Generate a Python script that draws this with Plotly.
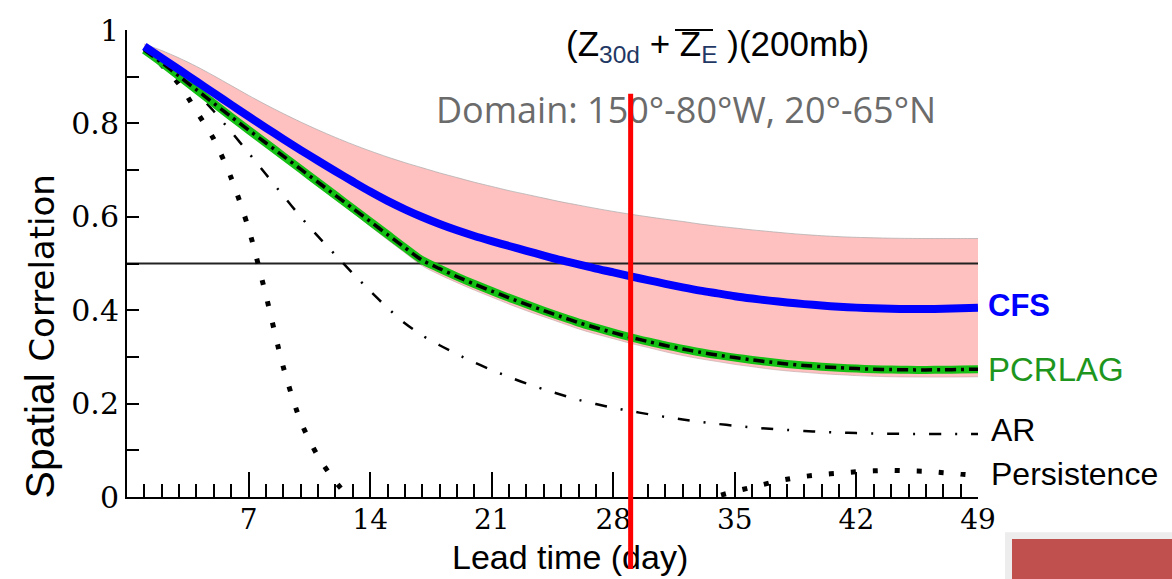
import plotly.graph_objects as go

# ---------------- data ----------------
days = list(range(1, 50))

cfs = [0.965, 0.940, 0.915, 0.890, 0.865, 0.840, 0.815, 0.7905, 0.7665, 0.743,
       0.720, 0.6975, 0.6755, 0.654, 0.634, 0.616, 0.5995, 0.5845, 0.571, 0.559,
       0.548, 0.5375, 0.527, 0.517, 0.507, 0.498, 0.489, 0.481, 0.4725, 0.4645,
       0.4565, 0.449, 0.442, 0.436, 0.430, 0.425, 0.4205, 0.4165, 0.413, 0.410,
       0.4075, 0.4055, 0.404, 0.403, 0.4025, 0.4025, 0.403, 0.404, 0.4055]

pcrlag = [0.957, 0.930, 0.901, 0.872, 0.843, 0.814, 0.786, 0.758, 0.730, 0.702,
          0.674, 0.646, 0.618, 0.590, 0.562, 0.534, 0.507, 0.489, 0.472, 0.456,
          0.441, 0.4265, 0.4125, 0.399, 0.386, 0.3735, 0.3625, 0.352, 0.342, 0.333,
          0.3245, 0.317, 0.310, 0.304, 0.2985, 0.2935, 0.289, 0.285, 0.2817, 0.279,
          0.2768, 0.275, 0.2737, 0.2728, 0.2723, 0.2722, 0.2725, 0.273, 0.2738]

band_upper = [0.970, 0.956, 0.940, 0.922, 0.902, 0.881, 0.860, 0.840, 0.821, 0.803,
              0.786, 0.770, 0.755, 0.741, 0.728, 0.716, 0.705, 0.694, 0.684, 0.674,
              0.665, 0.656, 0.648, 0.640, 0.632, 0.625, 0.618, 0.6115, 0.6055, 0.600,
              0.5948, 0.590, 0.5845, 0.580, 0.576, 0.572, 0.5685, 0.565, 0.562, 0.5595,
              0.5575, 0.556, 0.555, 0.5542, 0.5537, 0.5535, 0.5535, 0.5535, 0.5535]

band_lower = [0.953, 0.926, 0.897, 0.867, 0.838, 0.809, 0.780, 0.752, 0.723, 0.695,
              0.666, 0.637, 0.609, 0.580, 0.551, 0.523, 0.495, 0.476, 0.459, 0.443,
              0.428, 0.413, 0.399, 0.386, 0.373, 0.360, 0.349, 0.339, 0.329, 0.320,
              0.311, 0.303, 0.296, 0.290, 0.284, 0.279, 0.274, 0.270, 0.267, 0.264,
              0.262, 0.260, 0.2585, 0.2575, 0.257, 0.2568, 0.2568, 0.257, 0.2575]

ar = [0.962, 0.935, 0.903, 0.866, 0.826, 0.782, 0.737, 0.691, 0.645, 0.600,
      0.558, 0.518, 0.479, 0.441, 0.405, 0.372, 0.346, 0.325, 0.306, 0.288,
      0.272, 0.257, 0.243, 0.2305, 0.219, 0.208, 0.199, 0.191, 0.184, 0.1775,
      0.1715, 0.166, 0.161, 0.1565, 0.1525, 0.149, 0.146, 0.1435, 0.1413, 0.1395,
      0.138, 0.1368, 0.136, 0.1355, 0.1352, 0.135, 0.135, 0.135, 0.135]

persistence = [0.960, 0.925, 0.884, 0.826, 0.766, 0.683, 0.575, 0.432, 0.278, 0.162,
               0.087, 0.033, -0.010, None, None, None, None, None, None, None,
               None, None, None, None, None, None, None, None, None, None,
               None, None, -0.010, 0.002, 0.012, 0.021, 0.030, 0.038, 0.044, 0.048,
               0.051, 0.054, 0.056, 0.057, 0.056, 0.055, 0.052, 0.049, 0.046]

threshold = 0.5
marker_day = 29
x_range = [0, 49]
y_range = [0, 1]
x_tickvals = [7, 14, 21, 28, 35, 42, 49]
y_tickvals = [0, 0.2, 0.4, 0.6, 0.8, 1]
y_ticktext = ["0", "0.2", "0.4", "0.6", "0.8", "1"]

# ---------------- figure ----------------
W, H = 1172, 579
ML, MR, MT, MB = 127, 194, 20, 82
PW, PH = W - ML - MR, H - MT - MB


def px_x(px):
    return (px - ML) / PW


def px_y(py):
    return (H - MB - py) / PH


SM = 0.8
fig = go.Figure()

# uncertainty band
fig.add_trace(go.Scatter(x=days, y=band_lower, mode="lines",
                         line=dict(color="rgba(190,170,170,0.6)", width=1,
                                   shape="spline", smoothing=SM),
                         showlegend=False, hoverinfo="skip"))
fig.add_trace(go.Scatter(x=days, y=band_upper, mode="lines", fill="tonexty",
                         fillcolor="#FFC0C0",
                         line=dict(color="rgba(170,170,170,0.7)", width=1,
                                   shape="spline", smoothing=SM),
                         showlegend=False, hoverinfo="skip"))

# 0.5 reference line
fig.add_trace(go.Scatter(x=x_range, y=[threshold, threshold], mode="lines",
                         line=dict(color="#222222", width=1.8),
                         showlegend=False, hoverinfo="skip"))

# AR
fig.add_trace(go.Scatter(x=days, y=ar, mode="lines",
                         line=dict(color="black", width=2.5, shape="spline",
                                   smoothing=SM, dash="12px,14px,2px,14px"),
                         showlegend=False))
# Persistence
fig.add_trace(go.Scatter(x=days, y=persistence, mode="lines",
                         line=dict(color="black", width=5, shape="spline",
                                   smoothing=SM, dash="5px,17px"),
                         connectgaps=False, showlegend=False))
# PCRLAG (green with black dash-dot on top)
fig.add_trace(go.Scatter(x=days, y=pcrlag, mode="lines",
                         line=dict(color="#14C014", width=8, shape="spline",
                                   smoothing=SM),
                         showlegend=False))
fig.add_trace(go.Scatter(x=days, y=pcrlag, mode="lines",
                         line=dict(color="black", width=3.5, shape="spline",
                                   smoothing=SM, dash="11px,5px,3px,5px"),
                         showlegend=False))
# CFS
fig.add_trace(go.Scatter(x=days, y=cfs, mode="lines",
                         line=dict(color="#0000FF", width=8, shape="spline",
                                   smoothing=SM),
                         showlegend=False))

annotations = []
# series labels
lab_font = dict(family="Liberation Sans, Arial, sans-serif", size=32)
annotations.append(dict(x=days[-1], y=cfs[-1], xref="x", yref="y",
                        text="<b>CFS</b>", showarrow=False, xanchor="left",
                        xshift=8, yshift=2,
                        font=dict(lab_font, size=31, color="#0000FF")))
annotations.append(dict(x=days[-1], y=pcrlag[-1], xref="x", yref="y",
                        text="PCRLAG", showarrow=False, xanchor="left",
                        xshift=8, font=dict(lab_font, size=33, color="#1E961E")))
annotations.append(dict(x=days[-1], y=ar[-1], xref="x", yref="y",
                        text="AR", showarrow=False, xanchor="left",
                        xshift=11, yshift=4, font=dict(lab_font, color="black")))
annotations.append(dict(x=days[-1], y=persistence[-1], xref="x", yref="y",
                        text="Persistence", showarrow=False, xanchor="left",
                        xshift=11, yshift=2, font=dict(lab_font, color="black")))

# titles
annotations.append(dict(
    x=px_x(717), y=px_y(36), xref="paper", yref="paper",
    text=("(Z<sub><span style='color:#1F3864'>30d</span></sub> + "
          "Z<sub><span style='color:#1F3864'>E</span></sub> )(200mb)"),
    showarrow=False, xanchor="center", yanchor="middle",
    font=dict(family="Liberation Sans, Arial, sans-serif", size=35, color="black")))
annotations.append(dict(
    x=px_x(686), y=px_y(101), xref="paper", yref="paper",
    text="Domain: 150°-80°W, 20°-65°N", showarrow=False,
    xanchor="center", yanchor="middle",
    font=dict(family="Open Sans, sans-serif", size=36, color="#6B6B6B")))
# axis titles
annotations.append(dict(
    x=px_x(570), y=px_y(558), xref="paper", yref="paper",
    text="Lead time (day)", showarrow=False, xanchor="center", yanchor="middle",
    font=dict(family="Liberation Sans, Arial, sans-serif", size=34, color="black")))
annotations.append(dict(
    x=px_x(40), y=px_y(333), xref="paper", yref="paper", textangle=-90,
    text=("<span style='font-size:41px'>Spatial</span> "
          "<span style='font-family:DejaVu Sans;font-size:34px'>Correlation</span>"),
    showarrow=False, xanchor="center", yanchor="middle",
    font=dict(family="Liberation Sans, Arial, sans-serif", size=41, color="black")))

# red vertical marker line (drawn last so it sits above the texts)
annotations.append(dict(
    x=marker_day, y=px_y(85), xref="x", yref="paper",
    ax=0, ay=H - 85 + 20, axref="pixel", ayref="pixel",
    text=" ", showarrow=True, arrowhead=0, arrowwidth=5, arrowcolor="#FF0000",
    standoff=0, startstandoff=0))

shapes = [
    # overline above second Z
    dict(type="line", xref="paper", yref="paper",
         x0=px_x(675), x1=px_x(713), y0=px_y(20), y1=px_y(20),
         line=dict(color="black", width=2)),
    # decorative slide block bottom-right
    dict(type="rect", xref="paper", yref="paper",
         x0=px_x(1005), x1=px_x(1180), y0=px_y(533), y1=px_y(590),
         fillcolor="#EDEDED", line=dict(width=0), layer="above"),
    dict(type="rect", xref="paper", yref="paper",
         x0=px_x(1012), x1=px_x(1180), y0=px_y(540), y1=px_y(590),
         fillcolor="#C0504D", line=dict(width=0), layer="above"),
]

fig.update_layout(
    width=W, height=H,
    margin=dict(l=ML, r=MR, t=MT, b=MB, pad=0),
    plot_bgcolor="white", paper_bgcolor="white",
    showlegend=False,
    annotations=annotations,
    shapes=shapes,
)

fig.update_xaxes(
    range=x_range, showgrid=False, zeroline=False,
    showline=True, linecolor="black", linewidth=2,
    tickmode="array", tickvals=x_tickvals,
    ticks="inside", ticklen=25, tickwidth=2, tickcolor="black",
    ticklabelstandoff=-4,
    minor=dict(tickmode="linear", tick0=0, dtick=1, ticks="inside",
               ticklen=13, tickwidth=1.5, tickcolor="black"),
    tickfont=dict(family="DejaVu Serif, serif", size=28, color="black"),
)
fig.update_yaxes(
    range=y_range, showgrid=False, zeroline=False,
    showline=True, linecolor="black", linewidth=2,
    tickmode="array", tickvals=y_tickvals, ticktext=y_ticktext,
    ticks="inside", ticklen=12, tickwidth=2, tickcolor="black",
    minor=dict(tickmode="linear", tick0=0, dtick=0.1, ticks="inside",
               ticklen=12, tickwidth=2, tickcolor="black"),
    tickfont=dict(family="DejaVu Serif, serif", size=30, color="black"),
)

fig.write_html("out.html")
